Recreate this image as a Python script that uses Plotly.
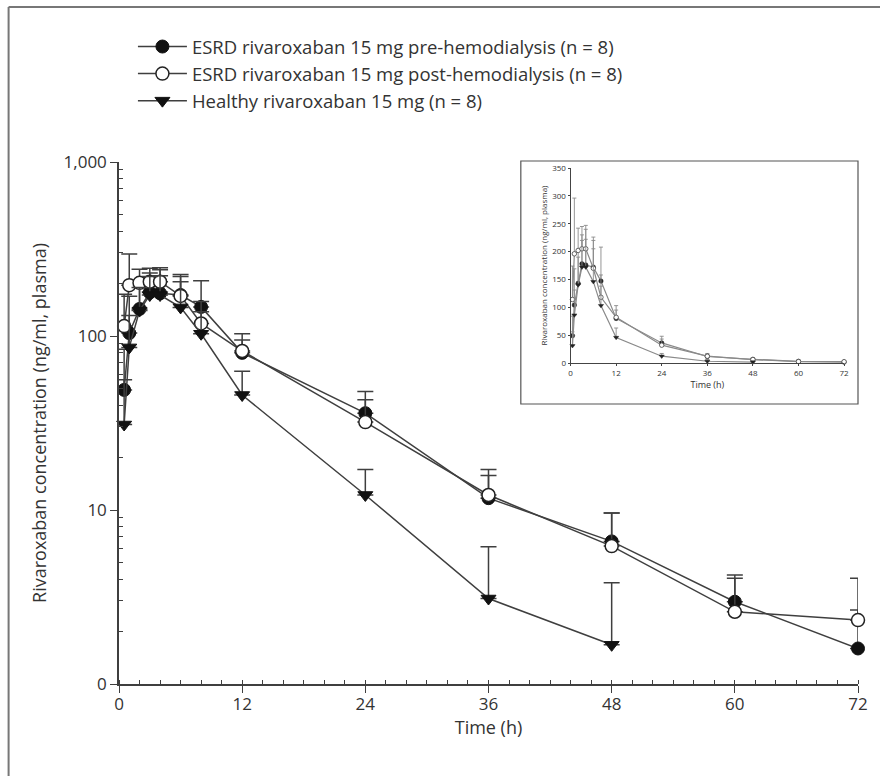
import plotly.graph_objects as go

# ---------------- data ----------------
times = [0.5, 1, 2, 3, 4, 6, 8, 12, 24, 36, 48, 60, 72]
pre_mean = [49, 104, 143, 178, 176, 172, 147, 80, 36, 11.7, 6.6, 2.97, 1.6]
pre_err = [35, 65, 60, 52, 64, 54, 61, 15, 12, 5.4, 3.0, 1.26, 1.06]
post_mean = [114, 196, 202, 205, 205, 170, 118, 82, 32, 12.2, 6.2, 2.6, 2.33]
post_err = [60, 100, 40, 40, 42, 50, 40, 21, 11, 3.6, 3.4, 1.45, 1.72]
healthy_times = [0.5, 1, 2, 3, 4, 6, 8, 12, 24, 36, 48]
healthy_mean = [31, 86, 140, 172, 172, 146, 103, 45.8, 12.2, 3.1, 1.68]
healthy_err = [25, 45, 50, 48, 50, 59, 35, 17, 4.9, 3.05, 2.14]

names = ["ESRD rivaroxaban 15 mg pre-hemodialysis (n = 8)",
         "ESRD rivaroxaban 15 mg post-hemodialysis (n = 8)",
         "Healthy rivaroxaban 15 mg (n = 8)"]

x_ticks = [0, 12, 24, 36, 48, 60, 72]
y_ticks = [1, 10, 100, 1000]
y_ticktext = ["0", "10", "100", "1,000"]
inset_y_ticks = [0, 50, 100, 150, 200, 250, 300, 350]

# ---------------- style ----------------
FONT = "Open Sans, Noto Sans, sans-serif"
TXT = "#333333"
LINE = "#3f3f3f"
series = [
    (times, pre_mean, pre_err, names[0], dict(symbol="circle", color="#111111", size=13,
                                             line=dict(color="#111111", width=1))),
    (times, post_mean, post_err, names[1], dict(symbol="circle", color="white", size=13,
                                               line=dict(color="#222222", width=1.5))),
    (healthy_times, healthy_mean, healthy_err, names[2], dict(symbol="triangle-down", color="#111111",
                                                           size=13, line=dict(color="#111111", width=1))),
]

fig = go.Figure()

for i, (tx, ym, ye, nm, mk) in enumerate(series):
    fig.add_trace(go.Scatter(
        x=tx, y=ym, name=nm, mode="lines+markers",
        line=dict(color=LINE, width=1.5), marker=mk,
        error_y=dict(type="data", symmetric=False, array=ye, arrayminus=[0] * len(ye),
                     color=LINE, thickness=1.5, width=8),
        legendgroup="g%d" % i, cliponaxis=False,
        xaxis="x", yaxis="y",
    ))

# inset (linear scale)
inset_marks = [
    dict(symbol="circle", color="#222222", size=4.5, line=dict(color="#222222", width=0.5)),
    dict(symbol="circle", color="white", size=4.5, line=dict(color="#444444", width=0.8)),
    dict(symbol="triangle-down", color="#222222", size=4.5, line=dict(color="#222222", width=0.5)),
]
for i, (tx, ym, ye, nm, mk) in enumerate(series):
    fig.add_trace(go.Scatter(
        x=tx, y=ym, mode="lines+markers", showlegend=False,
        line=dict(color="#8a8a8a", width=1.2), marker=inset_marks[i],
        error_y=dict(type="data", symmetric=False, array=ye, arrayminus=[0] * len(ye),
                     color="#8a8a8a", thickness=0.9, width=2),
        cliponaxis=False, xaxis="x2", yaxis="y2",
    ))

W, H = 880, 776
L, R, T, B = 119, 862, 162, 684
pw, ph = R - L, B - T


def px(xpix):
    return (xpix - L) / pw


def py(ypix):
    return (B - ypix) / ph


fig.update_layout(
    width=W, height=H,
    margin=dict(l=L, r=W - R, t=T, b=H - B),
    paper_bgcolor="white", plot_bgcolor="white",
    font=dict(family=FONT, color=TXT, size=17),
    showlegend=True,
    legend=dict(x=px(133), y=py(28), xanchor="left", yanchor="top",
                bgcolor="rgba(0,0,0,0)", font=dict(size=18.5, color=TXT),
                traceorder="grouped", tracegroupgap=0, itemwidth=49),
    xaxis=dict(range=[0, 72], tickvals=x_ticks, showline=True, linecolor=LINE, linewidth=1.5,
               ticks="outside", ticklen=7, tickwidth=1.2, tickcolor=LINE, ticklabelstandoff=-3,
               minor=dict(dtick=2, ticks="inside", ticklen=4, tickwidth=1, tickcolor=LINE),
               showgrid=False, zeroline=False, tickfont=dict(size=17, color=TXT),
               title=dict(text="Time (h)", font=dict(size=18, color=TXT), standoff=0)),
    yaxis=dict(type="log", range=[0, 3], tickvals=y_ticks, ticktext=y_ticktext,
               showline=True, linecolor=LINE, linewidth=1.5,
               ticks="outside", ticklen=7, tickwidth=1.2, tickcolor=LINE,
               minor=dict(tickvals=[2, 3, 4, 5, 6, 7, 8, 9, 20, 30, 40, 50, 60, 70, 80, 90,
                                    200, 300, 400, 500, 600, 700, 800, 900],
                          ticks="inside", ticklen=4, tickwidth=1, tickcolor=LINE),
               showgrid=False, zeroline=False, tickfont=dict(size=17, color=TXT),
               title=dict(text="Rivaroxaban concentration (ng/ml, plasma)",
                          font=dict(size=18, color=TXT), standoff=12)),
    xaxis2=dict(domain=[px(573), px(848)], anchor="y2", range=[0, 72], tickvals=x_ticks,
                showline=True, linecolor="#444", linewidth=1, ticks="outside", ticklen=2,
                tickcolor="#444", showgrid=False, zeroline=False,
                tickfont=dict(size=8, color=TXT),
                title=dict(text="Time (h)", font=dict(size=9, color=TXT), standoff=3)),
    yaxis2=dict(domain=[py(363), py(168)], anchor="x2", range=[0, 350], tickvals=inset_y_ticks,
                showline=True, linecolor="#444", linewidth=1, ticks="outside", ticklen=2,
                tickcolor="#444", showgrid=False, zeroline=False,
                tickfont=dict(size=8, color=TXT),
                title=dict(text="Rivaroxaban concentration (ng/ml, plasma)",
                           font=dict(size=8, color=TXT), standoff=3)),
    shapes=[
        dict(type="rect", xref="paper", yref="paper", x0=px(523), x1=px(862), y0=py(404), y1=py(161),
             line=dict(color="#555", width=1.2), fillcolor="white", layer="below"),
        dict(type="line", xref="paper", yref="paper", x0=px(8), x1=px(8), y0=py(800), y1=py(7),
             line=dict(color="#777", width=2)),
        dict(type="line", xref="paper", yref="paper", x0=px(8), x1=px(900), y0=py(7), y1=py(7),
             line=dict(color="#777", width=2)),
    ],
)

fig.write_html("out.html", config={"displayModeBar": False},
               post_script="document.body.style.margin='0px';document.body.style.overflow='hidden';")
